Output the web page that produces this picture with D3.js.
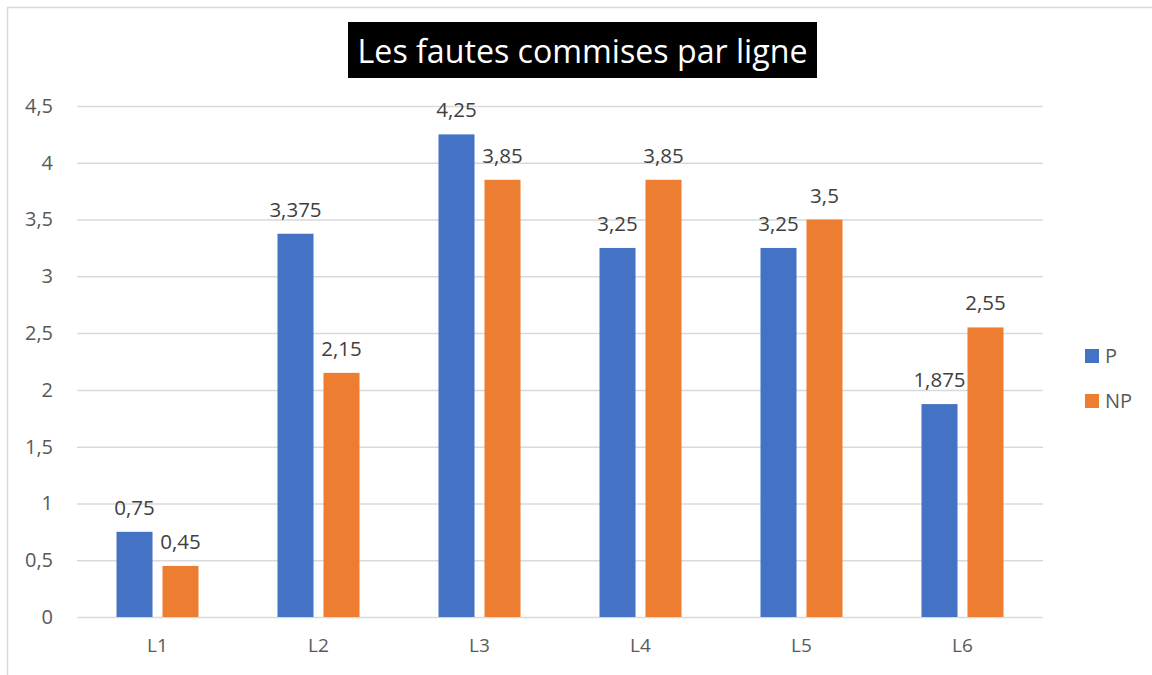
<!DOCTYPE html>
<html><head><meta charset="utf-8">
<script src="https://cdn.jsdelivr.net/npm/d3@7"></script>
<style>body{margin:0;background:#fff;font-family:"Open Sans",sans-serif;}</style>
</head><body><svg id="c" width="1152" height="675"></svg>
<script>
const categories = ["L1","L2","L3","L4","L5","L6"];
const seriesNames = ["P","NP"];
const valuesP = [0.75, 3.375, 4.25, 3.25, 3.25, 1.875];
const valuesNP = [0.45, 2.15, 3.85, 3.85, 3.5, 2.55];
const yTicks = [0,0.5,1,1.5,2,2.5,3,3.5,4,4.5];
const colors = {P:"#4472C4", NP:"#ED7D31"};
const chartTitle = "Les fautes commises par ligne";

(function(){
const fmt = v => String(v).replace(".", ",");
const svg = d3.select("#c");
svg.append("rect").attr("x",7.5).attr("y",7.5).attr("width",1160).attr("height",1000)
  .attr("fill","#fff").attr("stroke","#d9d9d9").attr("stroke-width",1.5);

const pLeft=77, pRight=1043, pTop=106, pBottom=617;
const y = d3.scaleLinear().domain([0,4.5]).range([pBottom, pTop]);
const x0 = d3.scaleBand().domain(categories).range([pLeft,pRight]).padding(0);
const groupW = 82;
const x1 = d3.scaleBand().domain(seriesNames)
  .range([(x0.bandwidth()-groupW)/2, (x0.bandwidth()+groupW)/2]).paddingInner(0.217);

const yAxis = d3.axisLeft(y).tickValues(yTicks).tickSize(-(pRight-pLeft)).tickFormat(fmt).tickPadding(24);
const ga = svg.append("g").attr("transform",`translate(${pLeft},0)`).call(yAxis);
ga.select(".domain").remove();
ga.selectAll(".tick line").attr("stroke","#d9d9d9").attr("stroke-width",1.5);
ga.selectAll(".tick text").attr("fill","#595959").style("font-size","20px").style("font-family","Open Sans");

const xAxis = d3.axisBottom(x0).tickSize(0).tickPadding(22);
const gx = svg.append("g").attr("transform",`translate(0,${pBottom})`).call(xAxis);
gx.select(".domain").remove();
gx.selectAll(".tick text").attr("fill","#595959").style("font-size","19px").style("font-family","Open Sans");

const data = categories.map((c,i)=>({cat:c, vals:[{s:"P",v:valuesP[i]},{s:"NP",v:valuesNP[i]}]}));
const groups = svg.append("g").selectAll("g").data(data).join("g")
  .attr("transform", d=>`translate(${x0(d.cat)},0)`);
groups.selectAll("rect").data(d=>d.vals).join("rect")
  .attr("x", d=>x1(d.s)).attr("width", x1.bandwidth())
  .attr("y", d=>y(d.v)).attr("height", d=>pBottom - y(d.v))
  .attr("fill", d=>colors[d.s]);
groups.selectAll("text").data(d=>d.vals).join("text")
  .attr("x", d=>x1(d.s)+x1.bandwidth()/2).attr("y", d=>y(d.v)-17)
  .attr("text-anchor","middle").attr("fill","#404040")
  .style("font-size","20.5px").text(d=>fmt(d.v));

svg.append("rect").attr("x",348).attr("y",22).attr("width",469).attr("height",56).attr("fill","#000");
const tt = svg.append("text").attr("x",582.5).attr("y",63).attr("text-anchor","middle")
  .attr("fill","#fff").style("font-size","31px").text(chartTitle);
const w = tt.node().getComputedTextLength();
tt.style("font-size", (31*450/w).toFixed(2)+"px");

const lg = svg.append("g").selectAll("g").data(seriesNames).join("g")
  .attr("transform",(d,i)=>`translate(1085,${349+i*45})`);
lg.append("rect").attr("width",14).attr("height",14).attr("fill",d=>colors[d]);
lg.append("text").attr("x",20).attr("y",7).attr("dy","0.35em").attr("fill","#595959")
  .style("font-size","20px").text(d=>d);
})();
</script></body></html>
